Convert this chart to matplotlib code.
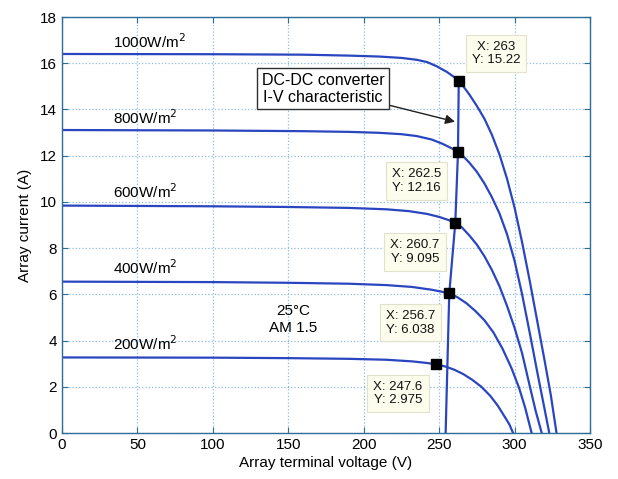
import matplotlib
matplotlib.use('Agg')
import matplotlib.pyplot as plt

plt.rcParams['font.family'] = ['Liberation Sans', 'DejaVu Sans']

# I-V curves (voltage in V, current in A)
irradiance = ['1000', '800', '600', '400', '200']

v_1000 = [0, 100, 160, 190, 210, 225, 235, 242, 248, 255, 260, 263, 266, 270, 275, 280, 285,
          290, 295, 300, 305, 310, 315, 320, 324, 327.8]
i_1000 = [16.4, 16.39, 16.37, 16.33, 16.29, 16.23, 16.15, 16.05, 15.88, 15.63, 15.40, 15.22,
          15.0, 14.65, 14.15, 13.6, 12.9, 12.05, 11.0, 9.75, 8.25, 6.6, 4.85, 3.1, 1.65, 0]

v_800 = [0, 100, 160, 190, 210, 225, 235, 245, 252, 258, 262.5, 266, 270, 275, 280, 285,
         290, 295, 300, 305, 310, 315, 320, 323]
i_800 = [13.11, 13.09, 13.06, 13.03, 12.99, 12.93, 12.85, 12.7, 12.52, 12.33, 12.16, 11.97,
         11.7, 11.3, 10.8, 10.2, 9.5, 8.6, 7.45, 6.0, 4.35, 2.65, 1.0, 0]

v_600 = [0, 100, 150, 190, 215, 230, 242, 250, 256, 260.7, 265, 270, 275, 280, 285, 290,
         295, 300, 305, 310, 314, 318]
i_600 = [9.84, 9.81, 9.78, 9.74, 9.68, 9.6, 9.48, 9.35, 9.22, 9.095, 8.9, 8.55, 8.15, 7.65,
         7.05, 6.35, 5.5, 4.55, 3.45, 2.05, 0.95, 0]

v_400 = [0, 100, 150, 190, 215, 232, 245, 252, 256.7, 262, 268, 274, 280, 286, 292, 298,
         303, 307, 311.3]
i_400 = [6.55, 6.53, 6.5, 6.46, 6.4, 6.32, 6.2, 6.11, 6.038, 5.88, 5.62, 5.28, 4.88, 4.35,
         3.65, 2.8, 1.95, 1.1, 0]

v_200 = [0, 100, 150, 190, 215, 232, 242, 247.6, 254, 260, 266, 272, 278, 284, 289, 293,
         296.5, 299]
i_200 = [3.27, 3.26, 3.24, 3.21, 3.17, 3.1, 3.03, 2.975, 2.88, 2.74, 2.55, 2.3, 2.0, 1.6,
         1.17, 0.75, 0.38, 0]

# DC-DC converter I-V characteristic
conv_v = [254.3, 256.7, 260.7, 262.5, 263]
conv_i = [0, 6.038, 9.095, 12.16, 15.22]

# data tips
tip_x = [263, 262.5, 260.7, 256.7, 247.6]
tip_y = [15.22, 12.16, 9.095, 6.038, 2.975]

curves = [(v_1000, i_1000), (v_800, i_800), (v_600, i_600), (v_400, i_400), (v_200, i_200)]
label_y = [16.95, 13.65, 10.45, 7.15, 3.85]

line_col = '#2a45c0'
axis_col = '#2e6e96'

fig = plt.figure(figsize=(6.18, 4.79), dpi=100)
ax = fig.add_axes([0.1003, 0.096, 0.8544, 0.8685])

for (v, i), name, ly in zip(curves, irradiance, label_y):
    ax.plot(v, i, color=line_col, lw=1.6)
    ax.text(34, ly, name + 'W/m$^2$', fontsize=11, ha='left', va='center')

ax.plot(conv_v, conv_i, color=line_col, lw=1.6)
ax.plot(tip_x, tip_y, 's', color='black', markersize=7.5)

# data tip boxes (offsets in points)
offsets = [(27, 20), (-30, -21), (-29, -21), (-28, -21), (-27, -21)]
for x, y, off in zip(tip_x, tip_y, offsets):
    ax.annotate('X: {:g}\nY: {:g}'.format(x, y), xy=(x, y), xytext=off,
                textcoords='offset points', ha='center', va='center',
                fontsize=9.5, color='#111111', linespacing=1.2,
                bbox=dict(boxstyle='square,pad=0.45', fc='#fdfdee', ec='#e2e2cc', lw=0.8))

ax.annotate('DC-DC converter\nI-V characteristic', xy=(260.5, 13.47), xytext=(173, 14.9),
            ha='center', va='center', fontsize=11.5, linespacing=1.15,
            bbox=dict(boxstyle='square,pad=0.3', fc='white', ec='#303030', lw=1),
            arrowprops=dict(arrowstyle='-|>', color='#202020', lw=1, shrinkA=0, shrinkB=0,
                            mutation_scale=14))

ax.text(153, 4.9, '25°C\nAM 1.5', fontsize=11, ha='center', va='center', linespacing=1.25)

ax.set_xlim(0, 350)
ax.set_ylim(0, 18)
ax.set_xticks(range(0, 351, 50))
ax.set_yticks(range(0, 19, 2))
ax.grid(True, linestyle=':', color='#8fbde0', lw=0.9)
ax.tick_params(direction='in', top=True, right=True, labelsize=11, length=4,
               color=axis_col)
for s in ax.spines.values():
    s.set_color(axis_col)
    s.set_linewidth(1.0)

ax.set_xlabel('Array terminal voltage (V)', fontsize=11, labelpad=3)
ax.set_ylabel('Array current (A)', fontsize=11, labelpad=6)

fig.savefig('out.png', dpi=100)
